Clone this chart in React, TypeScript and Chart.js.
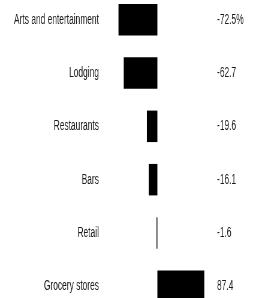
import React, { useEffect, useRef } from 'react';
import { Chart, registerables } from 'chart.js';

Chart.register(...registerables);

const categories = ['Arts and entertainment', 'Lodging', 'Restaurants', 'Bars', 'Retail', 'Grocery stores'];
const changes = [-72.5, -62.7, -19.6, -16.1, -1.6, 87.4];
const valueLabels = ['-72.5%', '-62.7', '-19.6', '-16.1', '-1.6', '87.4'];
const xMin = -100;
const xMax = 100;

const FONT = { family: '"Liberation Sans", Arial, sans-serif', size: 14 };
const TEXT_COLOR = '#1a1a1a';

export default function App() {
  const ref = useRef<HTMLCanvasElement>(null);
  useEffect(() => {
    const chart = new Chart(ref.current as HTMLCanvasElement, {
      type: 'bar',
      data: {
        labels: categories,
        datasets: [
          {
            data: changes,
            backgroundColor: '#000',
            borderWidth: 0,
            barPercentage: 0.59,
            categoryPercentage: 1,
          },
        ],
      },
      options: {
        indexAxis: 'y',
        responsive: false,
        animation: false,
        layout: { padding: 0 },
        plugins: { legend: { display: false }, tooltip: { enabled: false } },
        scales: {
          x: { display: false, min: xMin, max: xMax },
          y: {
            position: 'left',
            grid: { display: false, drawTicks: false },
            border: { display: false },
            ticks: { padding: 8, color: TEXT_COLOR, font: FONT },
            afterFit: (s: any) => {
              s.width = 173;
              s.paddingTop = 0;
              s.paddingBottom = 0;
            },
          },
          y2: {
            type: 'category',
            labels: valueLabels,
            position: 'right',
            offset: true,
            grid: { display: false, drawTicks: false },
            border: { display: false },
            ticks: { padding: 10, color: TEXT_COLOR, font: FONT },
            afterFit: (s: any) => {
              s.width = 80;
              s.paddingTop = 0;
              s.paddingBottom = 0;
            },
          },
        },
      },
    } as any);
    return () => chart.destroy();
  }, []);
  return (
    <div
      style={{
        position: 'fixed',
        left: 0,
        top: -7,
        width: 432,
        height: 320,
        transform: 'scaleX(0.5995)',
        transformOrigin: '0 0',
      }}
    >
      <canvas ref={ref} width={432} height={320} />
    </div>
  );
}
